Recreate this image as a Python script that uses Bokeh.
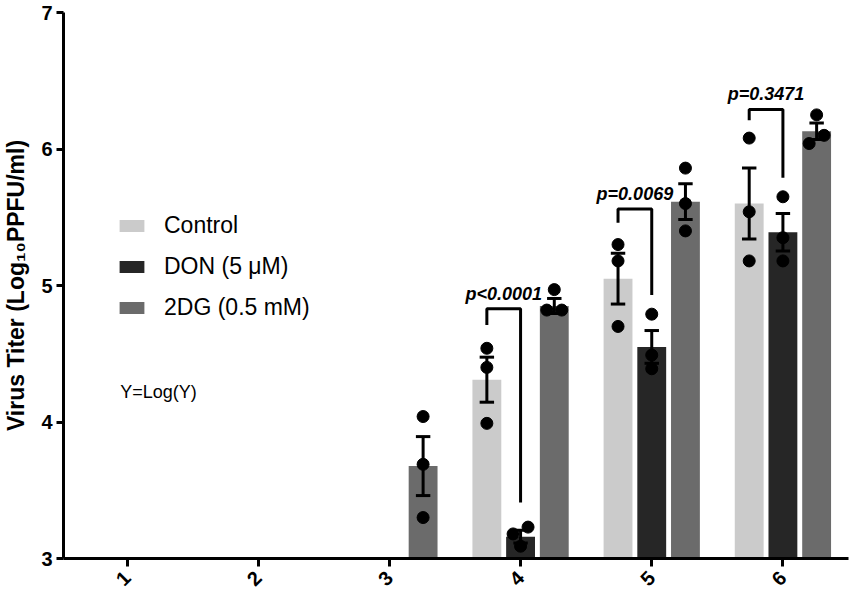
import math
from bokeh.plotting import figure
from bokeh.models import Legend, LegendItem, Label, FixedTicker, Range1d, ColumnDataSource
from bokeh.core.properties import value
from bokeh.embed import file_html
from bokeh.resources import INLINE

NaN = float("nan")

# ---- data ----
days = [1, 2, 3, 4, 5, 6]
day_labels = ["1", "2", "3", "4", "5", "6"]
series_names = ["Control", "DON (5 \u03bcM)", "2DG (0.5 mM)"]

control_mean = [NaN, NaN, NaN, 4.31, 5.05, 5.60]
control_sem = [NaN, NaN, NaN, 0.165, 0.186, 0.26]
control_pts = [[], [], [], [4.54, 4.40, 3.99], [5.30, 5.18, 4.70], [6.08, 5.54, 5.18]]

don_mean = [NaN, NaN, NaN, 3.16, 4.55, 5.39]
don_sem = [NaN, NaN, NaN, 0.047, 0.12, 0.138]
don_pts = [[], [], [], [3.23, 3.18, 3.09], [4.79, 4.49, 4.39], [5.65, 5.35, 5.18]]

dg_mean = [NaN, NaN, 3.677, 4.85, 5.614, 6.13]
dg_sem = [NaN, NaN, 0.216, 0.055, 0.131, 0.06]
dg_pts = [[], [], [4.04, 3.69, 3.30], [4.97, 4.82, 4.82], [5.86, 5.60, 5.40], [6.25, 6.10, 6.04]]

cmp_days = [4, 5, 6]
cmp_labels = ["p<0.0001", "p=0.0069", "p=0.3471"]
bracket_top = [4.83, 5.56, 6.29]
bracket_left_end = [4.71, 5.46, 6.21]
bracket_right_end = [3.41, 4.93, 5.79]

# ---- style ----
FONT = "Liberation Sans"
colors = ["#cbcbcb", "#262626", "#6b6b6b"]
OFF = 0.257
BW = 0.22
CAP = 0.055
JIT = 0.057

p = figure(width=850, height=595, output_backend="svg", toolbar_location=None,
           x_range=Range1d(0.5155, 6.50), y_range=Range1d(3, 7),
           min_border_left=58, min_border_right=2, min_border_top=12, min_border_bottom=33)
p.outline_line_color = None
p.xgrid.visible = False
p.ygrid.visible = False
p.background_fill_color = "white"
p.border_fill_color = "white"

for ax in (p.xaxis[0], p.yaxis[0]):
    ax.axis_line_width = 3
    ax.axis_line_color = "black"
    ax.major_tick_line_width = 3
    ax.major_tick_line_color = "black"
    ax.major_tick_in = 0
    ax.major_tick_out = 7
    ax.minor_tick_line_color = None
    ax.major_label_text_font = FONT
    ax.major_label_text_font_style = "bold"
    ax.major_label_text_color = "black"

p.yaxis.ticker = FixedTicker(ticks=[3, 4, 5, 6, 7])
p.yaxis.major_label_text_font_size = "20px"
p.yaxis.major_label_standoff = 4
p.yaxis.axis_label = "Virus Titer (Log\u2081\u2080PPFU/ml)"
p.yaxis.axis_label_text_font = FONT
p.yaxis.axis_label_text_font_style = "bold"
p.yaxis.axis_label_text_font_size = "23px"
p.yaxis.axis_label_text_color = "black"
p.yaxis.axis_label_standoff = 9

p.xaxis.ticker = FixedTicker(ticks=days)
p.xaxis.major_label_overrides = {d: l for d, l in zip(days, day_labels)}
p.xaxis.major_label_text_font_size = "20px"
p.xaxis.major_label_orientation = math.pi / 4
p.xaxis.major_label_standoff = 8
p.xaxis.major_tick_out = 8

series = [(control_mean, control_sem, control_pts),
          (don_mean, don_sem, don_pts),
          (dg_mean, dg_sem, dg_pts)]

bar_renderers = []
for k, (m, s, pts) in enumerate(series):
    xs = [d + (k - 1) * OFF for d, v in zip(days, m) if not math.isnan(v)]
    tops = [v for v in m if not math.isnan(v)]
    r = p.vbar(x=xs, top=tops, bottom=3, width=BW, fill_color=colors[k], line_color=None)
    bar_renderers.append(r)

# error bars (mean +/- SEM)
for k, (m, s, pts) in enumerate(series):
    x0, y0, x1, y1 = [], [], [], []
    for d, v, e in zip(days, m, s):
        if math.isnan(v):
            continue
        cx = d + (k - 1) * OFF
        x0 += [cx, cx - CAP, cx - CAP]
        x1 += [cx, cx + CAP, cx + CAP]
        y0 += [v - e, v + e, v - e]
        y1 += [v + e, v + e, v - e]
    p.segment(x0=x0, y0=y0, x1=x1, y1=y1, line_color="black", line_width=3)

# replicate points, spread sideways only where they would overlap
def spread(vals):
    order = sorted(range(len(vals)), key=lambda i: vals[i])
    offs = [0.0] * len(vals)
    i = 0
    while i < len(order) - 1:
        a, b = order[i], order[i + 1]
        if abs(vals[a] - vals[b]) < 0.08:
            offs[a] = -JIT
            offs[b] = JIT
            i += 2
        else:
            i += 1
    return offs

for k, (m, s, pts) in enumerate(series):
    px, py = [], []
    for d, vals in zip(days, pts):
        if not vals:
            continue
        cx = d + (k - 1) * OFF
        for v, o in zip(vals, spread(vals)):
            px.append(cx + o)
            py.append(v)
    p.scatter(x=px, y=py, size=12, fill_color="black", line_color="black")

# significance brackets
bx, by = [], []
for d, t, le, re_ in zip(cmp_days, bracket_top, bracket_left_end, bracket_right_end):
    xl = d - OFF
    xr = d
    bx.append([xl, xl, xr, xr])
    by.append([le, t, t, re_])
p.multi_line(xs=bx, ys=by, line_color="black", line_width=3)

src = ColumnDataSource(dict(
    x=[d - OFF / 2 for d in cmp_days],
    y=[t + 0.11 for t in bracket_top],
    text=cmp_labels))
p.text(x="x", y="y", text="text", source=src, text_font=value(FONT),
       text_font_style="bold italic", text_font_size="18px", text_color="black",
       text_align="center", text_baseline="middle")

legend = Legend(items=[LegendItem(label=n, renderers=[r]) for n, r in zip(series_names, bar_renderers)],
                location=(53, 237), orientation="vertical",
                glyph_width=31, glyph_height=15, label_standoff=17, spacing=14,
                padding=0, margin=0, border_line_color=None, background_fill_alpha=0,
                label_text_font=FONT, label_text_font_size="23px", label_text_color="black",
                label_height=26)
p.add_layout(legend)

p.add_layout(Label(x=0.948, y=4.22, text="Y=Log(Y)", text_baseline="middle",
                   text_font=FONT, text_font_size="18px", text_color="black"))

open("out.html", "w").write(file_html(p, INLINE))
